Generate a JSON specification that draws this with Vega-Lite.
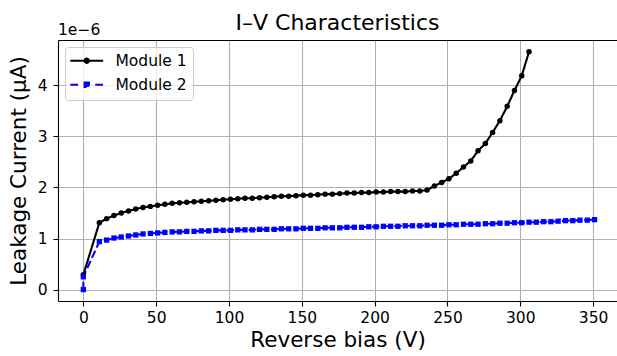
{
  "$schema": "https://vega.github.io/schema/vega-lite/v6.json",
  "autosize": {"type": "none"},
  "padding": {"left": 58, "top": 40, "right": 0, "bottom": 55},
  "width": 559,
  "height": 261,
  "background": "white",
  "config": {
    "font": "DejaVu Sans",
    "view": {"stroke": null},
    "axis": {
      "labelFontSize": 15.5,
      "labelColor": "black",
      "titleFontSize": 21.5,
      "titleFontWeight": "normal",
      "titleColor": "black",
      "domainColor": "black",
      "domainWidth": 1.1,
      "tickColor": "black",
      "tickWidth": 1.1,
      "tickSize": 5,
      "gridColor": "#b0b0b0",
      "gridWidth": 1.1,
      "gridOpacity": 1
    },
    "legend": {
      "orient": "top-left",
      "offset": 7,
      "padding": 6,
      "fillColor": "rgba(255,255,255,0.8)",
      "strokeColor": "#cccccc",
      "cornerRadius": 3,
      "symbolSize": 30,
      "symbolStrokeWidth": 2,
      "symbolOpacity": 1,
      "symbolOffset": 8,
      "labelOffset": 21,
      "labelFontSize": 15.5,
      "labelColor": "black",
      "rowPadding": 7
    }
  },
  "title": {
    "text": "I–V Characteristics",
    "fontSize": 22,
    "fontWeight": "normal",
    "color": "black",
    "offset": -12
  },
  "data": {
    "values": [
      {"series": "Module 1", "V": 0, "I": 0.29},
      {"series": "Module 1", "V": 11, "I": 1.31},
      {"series": "Module 1", "V": 16, "I": 1.39},
      {"series": "Module 1", "V": 21, "I": 1.45},
      {"series": "Module 1", "V": 26, "I": 1.50},
      {"series": "Module 1", "V": 31, "I": 1.54},
      {"series": "Module 1", "V": 36, "I": 1.58},
      {"series": "Module 1", "V": 41, "I": 1.61},
      {"series": "Module 1", "V": 46, "I": 1.63},
      {"series": "Module 1", "V": 51, "I": 1.65},
      {"series": "Module 1", "V": 56, "I": 1.67},
      {"series": "Module 1", "V": 61, "I": 1.69},
      {"series": "Module 1", "V": 66, "I": 1.70},
      {"series": "Module 1", "V": 71, "I": 1.71},
      {"series": "Module 1", "V": 76, "I": 1.72},
      {"series": "Module 1", "V": 81, "I": 1.73},
      {"series": "Module 1", "V": 86, "I": 1.74},
      {"series": "Module 1", "V": 91, "I": 1.75},
      {"series": "Module 1", "V": 96, "I": 1.76},
      {"series": "Module 1", "V": 101, "I": 1.77},
      {"series": "Module 1", "V": 106, "I": 1.78},
      {"series": "Module 1", "V": 111, "I": 1.79},
      {"series": "Module 1", "V": 116, "I": 1.79},
      {"series": "Module 1", "V": 121, "I": 1.80},
      {"series": "Module 1", "V": 126, "I": 1.81},
      {"series": "Module 1", "V": 131, "I": 1.82},
      {"series": "Module 1", "V": 136, "I": 1.83},
      {"series": "Module 1", "V": 141, "I": 1.83},
      {"series": "Module 1", "V": 146, "I": 1.84},
      {"series": "Module 1", "V": 151, "I": 1.85},
      {"series": "Module 1", "V": 156, "I": 1.85},
      {"series": "Module 1", "V": 161, "I": 1.86},
      {"series": "Module 1", "V": 166, "I": 1.87},
      {"series": "Module 1", "V": 171, "I": 1.87},
      {"series": "Module 1", "V": 176, "I": 1.88},
      {"series": "Module 1", "V": 181, "I": 1.89},
      {"series": "Module 1", "V": 186, "I": 1.89},
      {"series": "Module 1", "V": 191, "I": 1.90},
      {"series": "Module 1", "V": 196, "I": 1.90},
      {"series": "Module 1", "V": 201, "I": 1.91},
      {"series": "Module 1", "V": 206, "I": 1.91},
      {"series": "Module 1", "V": 211, "I": 1.92},
      {"series": "Module 1", "V": 216, "I": 1.92},
      {"series": "Module 1", "V": 221, "I": 1.92},
      {"series": "Module 1", "V": 226, "I": 1.93},
      {"series": "Module 1", "V": 231, "I": 1.93},
      {"series": "Module 1", "V": 236, "I": 1.95},
      {"series": "Module 1", "V": 241, "I": 2.03},
      {"series": "Module 1", "V": 246, "I": 2.10},
      {"series": "Module 1", "V": 251, "I": 2.17},
      {"series": "Module 1", "V": 256, "I": 2.28},
      {"series": "Module 1", "V": 261, "I": 2.40},
      {"series": "Module 1", "V": 266, "I": 2.52},
      {"series": "Module 1", "V": 271, "I": 2.72},
      {"series": "Module 1", "V": 276, "I": 2.86},
      {"series": "Module 1", "V": 281, "I": 3.08},
      {"series": "Module 1", "V": 286, "I": 3.31},
      {"series": "Module 1", "V": 291, "I": 3.59},
      {"series": "Module 1", "V": 296, "I": 3.90},
      {"series": "Module 1", "V": 301, "I": 4.19},
      {"series": "Module 1", "V": 306, "I": 4.66},
      {"series": "Module 2", "V": 0, "I": 0},
      {"series": "Module 2", "V": 0, "I": 0.25},
      {"series": "Module 2", "V": 11, "I": 0.94},
      {"series": "Module 2", "V": 16, "I": 0.97},
      {"series": "Module 2", "V": 21, "I": 1.01},
      {"series": "Module 2", "V": 26, "I": 1.03},
      {"series": "Module 2", "V": 31, "I": 1.05},
      {"series": "Module 2", "V": 36, "I": 1.07},
      {"series": "Module 2", "V": 41, "I": 1.09},
      {"series": "Module 2", "V": 46, "I": 1.10},
      {"series": "Module 2", "V": 51, "I": 1.11},
      {"series": "Module 2", "V": 56, "I": 1.12},
      {"series": "Module 2", "V": 61, "I": 1.13},
      {"series": "Module 2", "V": 66, "I": 1.13},
      {"series": "Module 2", "V": 71, "I": 1.14},
      {"series": "Module 2", "V": 76, "I": 1.14},
      {"series": "Module 2", "V": 81, "I": 1.15},
      {"series": "Module 2", "V": 86, "I": 1.15},
      {"series": "Module 2", "V": 91, "I": 1.16},
      {"series": "Module 2", "V": 96, "I": 1.16},
      {"series": "Module 2", "V": 101, "I": 1.16},
      {"series": "Module 2", "V": 106, "I": 1.17},
      {"series": "Module 2", "V": 111, "I": 1.17},
      {"series": "Module 2", "V": 116, "I": 1.17},
      {"series": "Module 2", "V": 121, "I": 1.18},
      {"series": "Module 2", "V": 126, "I": 1.18},
      {"series": "Module 2", "V": 131, "I": 1.18},
      {"series": "Module 2", "V": 136, "I": 1.19},
      {"series": "Module 2", "V": 141, "I": 1.19},
      {"series": "Module 2", "V": 146, "I": 1.19},
      {"series": "Module 2", "V": 151, "I": 1.20},
      {"series": "Module 2", "V": 156, "I": 1.20},
      {"series": "Module 2", "V": 161, "I": 1.20},
      {"series": "Module 2", "V": 166, "I": 1.21},
      {"series": "Module 2", "V": 171, "I": 1.21},
      {"series": "Module 2", "V": 176, "I": 1.21},
      {"series": "Module 2", "V": 181, "I": 1.22},
      {"series": "Module 2", "V": 186, "I": 1.22},
      {"series": "Module 2", "V": 191, "I": 1.22},
      {"series": "Module 2", "V": 196, "I": 1.23},
      {"series": "Module 2", "V": 201, "I": 1.23},
      {"series": "Module 2", "V": 206, "I": 1.24},
      {"series": "Module 2", "V": 211, "I": 1.24},
      {"series": "Module 2", "V": 216, "I": 1.24},
      {"series": "Module 2", "V": 221, "I": 1.25},
      {"series": "Module 2", "V": 226, "I": 1.25},
      {"series": "Module 2", "V": 231, "I": 1.25},
      {"series": "Module 2", "V": 236, "I": 1.26},
      {"series": "Module 2", "V": 241, "I": 1.26},
      {"series": "Module 2", "V": 246, "I": 1.26},
      {"series": "Module 2", "V": 251, "I": 1.27},
      {"series": "Module 2", "V": 256, "I": 1.27},
      {"series": "Module 2", "V": 261, "I": 1.28},
      {"series": "Module 2", "V": 266, "I": 1.28},
      {"series": "Module 2", "V": 271, "I": 1.28},
      {"series": "Module 2", "V": 276, "I": 1.29},
      {"series": "Module 2", "V": 281, "I": 1.29},
      {"series": "Module 2", "V": 286, "I": 1.30},
      {"series": "Module 2", "V": 291, "I": 1.30},
      {"series": "Module 2", "V": 296, "I": 1.31},
      {"series": "Module 2", "V": 301, "I": 1.31},
      {"series": "Module 2", "V": 306, "I": 1.32},
      {"series": "Module 2", "V": 311, "I": 1.32},
      {"series": "Module 2", "V": 316, "I": 1.33},
      {"series": "Module 2", "V": 321, "I": 1.33},
      {"series": "Module 2", "V": 326, "I": 1.34},
      {"series": "Module 2", "V": 331, "I": 1.35},
      {"series": "Module 2", "V": 336, "I": 1.35},
      {"series": "Module 2", "V": 341, "I": 1.36},
      {"series": "Module 2", "V": 346, "I": 1.36},
      {"series": "Module 2", "V": 351, "I": 1.37}
    ]
  },
  "resolve": {"axis": {"x": "independent"}},
  "layer": [
    {
      "mark": {"type": "point", "filled": true, "opacity": 0, "size": 30, "clip": false},
      "encoding": {
        "x": {"field": "V", "type": "quantitative", "axis": null},
        "y": {"field": "I", "type": "quantitative"},
        "fill": {
          "field": "series", "type": "nominal",
          "scale": {"domain": ["Module 1", "Module 2"], "range": ["black", "blue"]},
          "legend": {"title": null}
        },
        "stroke": {
          "field": "series", "type": "nominal",
          "scale": {"domain": ["Module 1", "Module 2"], "range": ["black", "blue"]},
          "legend": {"title": null}
        },
        "shape": {
          "field": "series", "type": "nominal",
          "scale": {"domain": ["Module 1", "Module 2"], "range": ["M-6,0H6M-0.8,0A0.8,0.8,0,1,0,0.8,0A0.8,0.8,0,1,0,-0.8,0Z", "M-6,0H-3.1M3.1,0H6M-0.8,-0.8H0.8V0.8H-0.8Z"]},
          "legend": {"title": null}
        }
      }
    },
    {
      "mark": {"type": "line", "strokeWidth": 2.1, "clip": false},
      "encoding": {
        "x": {
          "field": "V", "type": "quantitative",
          "scale": {"domain": [-17.4, 366.4], "nice": false, "zero": false},
          "axis": {"values": [0, 50, 100, 150, 200, 250, 300, 350], "title": "Reverse bias (V)", "labelPadding": 4, "titlePadding": 4, "grid": true}
        },
        "y": {
          "field": "I", "type": "quantitative",
          "scale": {"domain": [-0.224, 4.89], "nice": false, "zero": false},
          "axis": {"values": [0, 1, 2, 3, 4], "title": "Leakage Current (μA)", "labelPadding": 6, "titlePadding": 7, "grid": true}
        },
        "color": {
          "field": "series", "type": "nominal",
          "scale": {"domain": ["Module 1", "Module 2"], "range": ["black", "blue"]},
          "legend": null
        },
        "strokeDash": {
          "field": "series", "type": "nominal",
          "scale": {"domain": ["Module 1", "Module 2"], "range": [[1, 0], [7.8, 3.4]]},
          "legend": null
        },
        "order": {"value": null}
      }
    },
    {
      "transform": [{"filter": "datum.series === 'Module 1'"}],
      "mark": {"type": "point", "shape": "circle", "filled": true, "opacity": 1, "size": 30, "color": "black", "clip": false},
      "encoding": {
        "x": {
          "field": "V", "type": "quantitative",
          "axis": {"orient": "top", "labels": false, "ticks": false, "grid": false, "title": null, "domain": true}
        },
        "y": {"field": "I", "type": "quantitative"}
      }
    },
    {
      "transform": [{"filter": "datum.series === 'Module 2'"}],
      "mark": {"type": "point", "shape": "square", "filled": true, "opacity": 1, "size": 28, "color": "blue", "clip": false},
      "encoding": {
        "x": {"field": "V", "type": "quantitative", "axis": null},
        "y": {"field": "I", "type": "quantitative"}
      }
    },
    {
      "data": {"values": [{}]},
      "mark": {"type": "text", "align": "left", "baseline": "alphabetic", "dy": -5, "fontSize": 15.5, "color": "black", "clip": false},
      "encoding": {
        "x": {"datum": -17.4, "type": "quantitative", "axis": null},
        "y": {"datum": 4.89, "type": "quantitative"},
        "text": {"value": "1e−6"}
      }
    }
  ]
}
